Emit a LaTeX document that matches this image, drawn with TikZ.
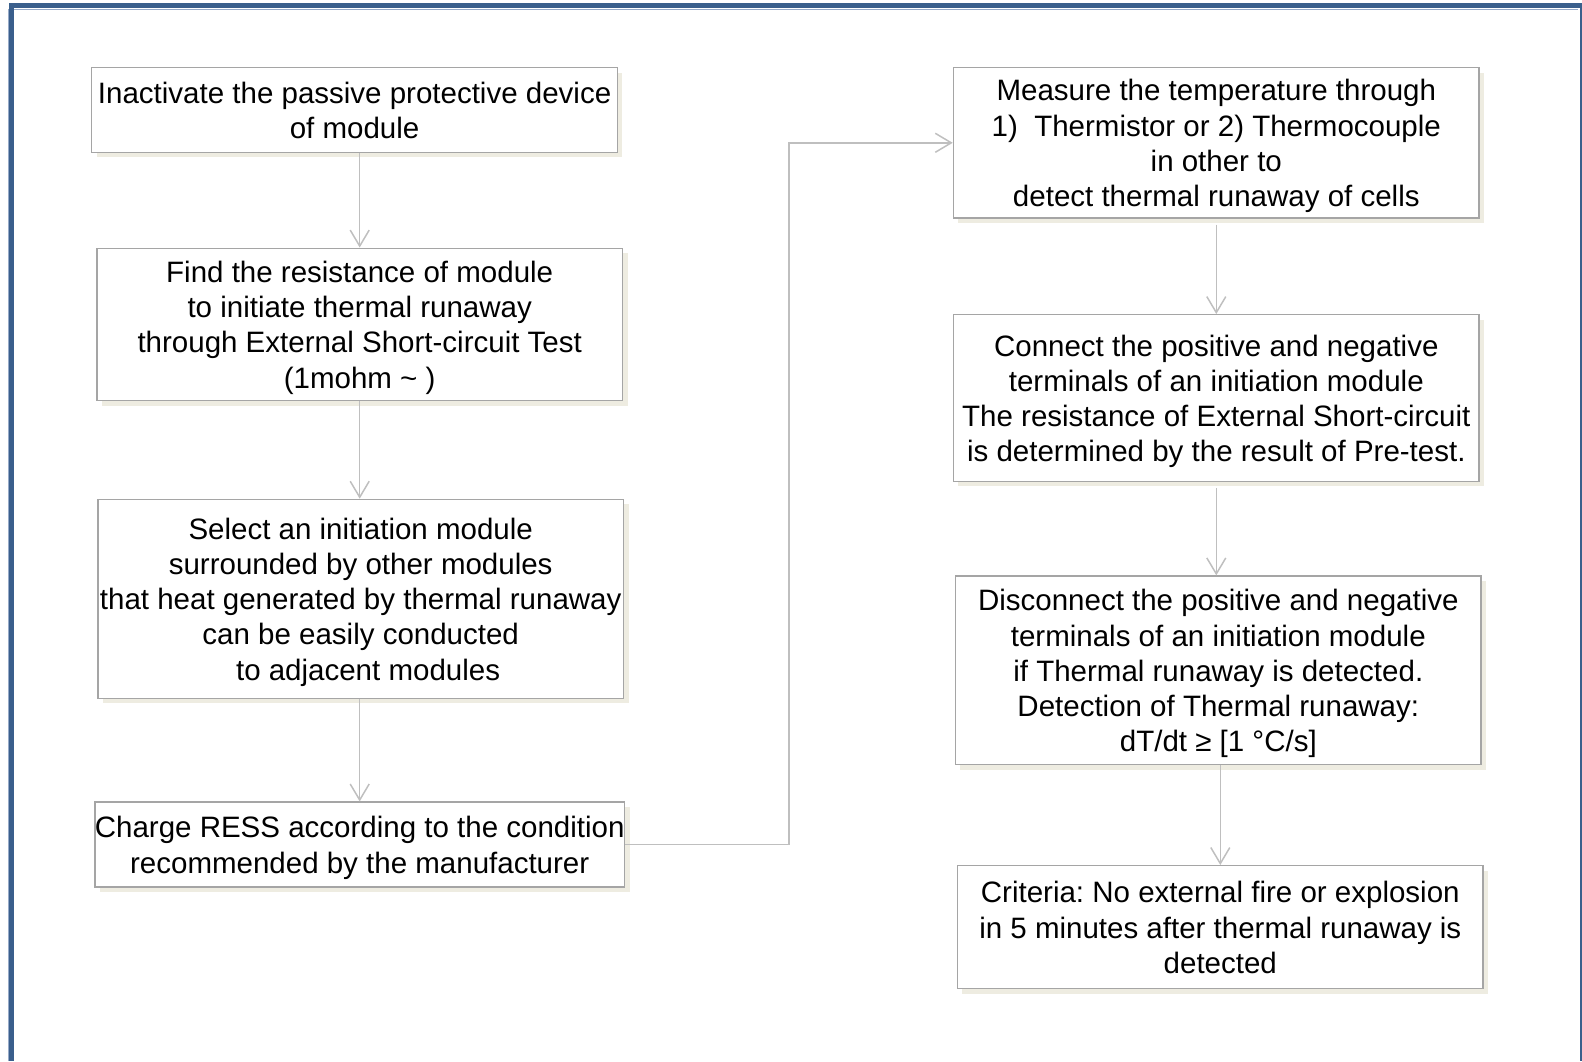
\documentclass[tikz,border=0pt]{standalone}
\usepackage{fontspec}
\setmainfont{Liberation Sans}
\usetikzlibrary{arrows.meta,shadows,calc}
\definecolor{framec}{RGB}{58,95,140}
\definecolor{framel}{RGB}{150,170,200}
\definecolor{shadowc}{RGB}{238,236,225}
\definecolor{boxc}{RGB}{165,165,165}
\definecolor{linec}{RGB}{191,191,191}
\newcommand{\lst}{\rule[-6.65pt]{0pt}{35.2pt}}
\tikzset{
  stepbox/.style={draw=boxc, line width=1.4pt, fill=white, align=center,
    minimum width=525.7pt, inner sep=0pt,
    font=\fontsize{29.5pt}{35.2pt}\selectfont\frenchspacing,
    general shadow={fill=shadowc, shadow xshift=5pt, shadow yshift=-5pt}},
  flow/.style={draw=linec, line width=1.5pt, -{Straight Barb[length=16pt,width=19pt,line width=1.5pt]}}
}
\begin{document}
\begin{tikzpicture}[x=1pt,y=-1pt]
\useasboundingbox (0,0) rectangle (1582,1061);
% frame
\draw[framel, line width=1pt] (8,1061) -- (8,9.5) -- (1578,9.5);
\draw[framec, line width=5pt] (11,1061) -- (11,5) -- (1582,5);
\draw[framec, line width=2pt] (1580.5,4) -- (1580.5,1061);
% left column
\node[stepbox, minimum height=84.7pt] (B1) at (354.6,110)
  {\lst Inactivate the passive protective device\\\lst of module};
\node[stepbox, minimum height=152.3pt] (B2) at (359.7,324.4)
  {\lst Find the resistance of module\\to initiate thermal runaway\\through External Short-circuit Test\\\lst (1mohm \textasciitilde\ )};
\node[stepbox, minimum height=198.8pt] (B3) at (360.7,598.8)
  {\lst Select an initiation module\\surrounded by other modules\\that heat generated by thermal runaway\\can be easily conducted\\\lst\hspace*{0.5em}to adjacent modules};
\node[stepbox, minimum height=84.7pt] (B4) at (359.7,844.5)
  {\lst Charge RESS according to the condition\\\lst recommended by the manufacturer};
% right column
\node[stepbox, minimum height=150.3pt] (R1) at (1216.3,142.8)
  {\lst Measure the temperature through\\1)\ \ Thermistor or 2) Thermocouple\\in other to\\\lst detect thermal runaway of cells};
\node[stepbox, minimum height=166.5pt] (R2) at (1216.3,398)
  {\lst Connect the positive and negative\\terminals of an initiation module\\The resistance of External Short-circuit\\\lst is determined by the result of Pre-test.};
\node[stepbox, minimum height=188.7pt] (R3) at (1218.3,670.4)
  {\lst Disconnect the positive and negative\\terminals of an initiation module\\if Thermal runaway is detected.\\Detection of Thermal runaway:\\\lst dT/dt ≥ [1 °C/s]};
\node[stepbox, minimum height=123pt] (R4) at (1220.3,927.2)
  {\lst Criteria: No external fire or explosion\\in 5 minutes after thermal runaway is\\\lst detected};
% connectors
\draw[flow] (B2.north |- B1.south) -- (B2.north);
\draw[flow] (B2.south) -- (B2.south |- B3.north);
\draw[flow] (B4.north |- B3.south) -- (B4.north);
\coordinate (mid) at ($(B4.east)!0.5!(R1.west)$);
\draw[flow] (B4.east) -- (B4.east -| mid) -- (R1.west -| mid) -- (R1.west);
\draw[flow, shorten <=6pt] (R1.south) -- (R2.north);
\draw[flow, shorten <=6pt] (R2.south) -- (R2.south |- R3.north);
\draw[flow] (R4.north |- R3.south) -- (R4.north);
\end{tikzpicture}
\end{document}
